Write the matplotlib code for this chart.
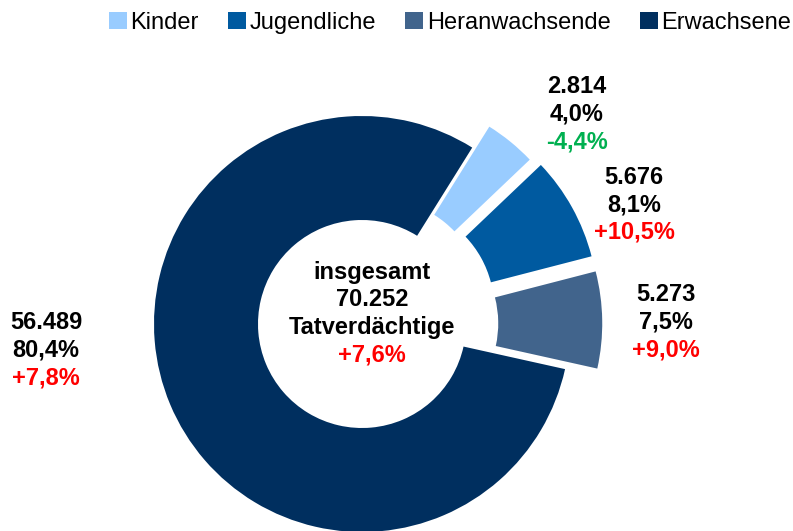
import matplotlib
matplotlib.use("Agg")
import matplotlib.pyplot as plt
from matplotlib.patches import Patch

categories = ["Kinder", "Jugendliche", "Heranwachsende", "Erwachsene"]
counts = [2814, 5676, 5273, 56489]
shares = ["4,0%", "8,1%", "7,5%", "80,4%"]
changes = ["-4,4%", "+10,5%", "+9,0%", "+7,8%"]
total_label = "70.252"
total_change = "+7,6%"

colors = ["#99CCFF", "#005AA0", "#41648C", "#002F5F"]
change_colors = ["#00B050", "#FF0000", "#FF0000", "#FF0000"]

W, H = 793, 531
fig = plt.figure(figsize=(W / 100, H / 100), dpi=100)
plt.rcParams["font.family"] = ["Liberation Sans", "DejaVu Sans"]

cx, cy, R = 362, 324, 208  # pixel centre and radius
ax = fig.add_axes([0, 0, 1, 1])
ax.pie(counts, colors=colors, startangle=58, counterclock=False,
       explode=[0.13, 0.155, 0.155, 0.0], radius=1.0,
       wedgeprops=dict(width=0.5, edgecolor="none", linewidth=0))
ax.set_xlim(-cx / R, (W - cx) / R)
ax.set_ylim(-(H - cy) / R, cy / R)
ax.set_aspect("auto")
ax.axis("off")


def fmt(n):
    return f"{n:,}".replace(",", ".")


def px(x, y):
    return x / W, 1 - y / H


fs = 17
lh = 27.5
label_pos = [(577, 114), (634, 205), (666, 322), (46, 350)]
for i, (x, y) in enumerate(label_pos):
    for j, (txt, col) in enumerate([(fmt(counts[i]), "black"),
                                    (shares[i], "black"),
                                    (changes[i], change_colors[i])]):
        fig.text(*px(x, y + (j - 1) * lh), txt, ha="center", va="center",
                 fontsize=fs, fontweight="bold", color=col)

center_lines = [("insgesamt", "black"), (total_label, "black"),
                ("Tatverdächtige", "black"), (total_change, "#FF0000")]
for j, (txt, col) in enumerate(center_lines):
    fig.text(*px(372, 272 + j * 27.7), txt, ha="center", va="center",
             fontsize=fs, fontweight="bold", color=col)

handles = [Patch(facecolor=c, edgecolor="none") for c in colors]
fig.legend(handles, categories, ncol=4, loc="upper center",
           bbox_to_anchor=(450 / W, 1.0 + 5 / H), frameon=False,
           fontsize=17, handlelength=0.75, handleheight=0.75,
           handletextpad=0.15, columnspacing=1.25, borderaxespad=0.3)

fig.savefig("out.png", dpi=100)
